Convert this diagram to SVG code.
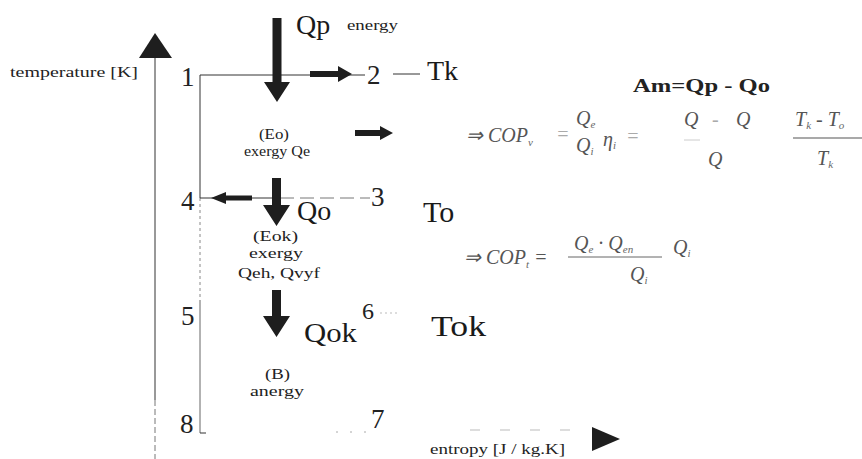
<svg xmlns="http://www.w3.org/2000/svg" width="862" height="459" viewBox="0 0 862 459">
<style>
.big{font-family:"Liberation Serif","Times New Roman",serif;font-size:28px;fill:#1a1a1a}
.num{font-family:"Liberation Serif","Times New Roman",serif;font-size:27px;fill:#222}
.sm{font-family:"Liberation Serif","Times New Roman",serif;font-size:15px;fill:#222}
.mid{font-family:"Liberation Serif","Times New Roman",serif;font-size:14px;fill:#222}
.f{font-family:"Liberation Serif","Times New Roman",serif;font-style:italic;font-size:20px;fill:#555}
.fs{font-size:11px;fill:#666}
.fa{fill:#aaa}
.ln{stroke:#333;stroke-width:1;fill:none}
.blk{fill:#1e1e1e}
</style>
<rect width="862" height="459" fill="#ffffff"/>

<g id="axes">
  <polygon class="blk" points="155,33 139,58 172,58"/>
  <line class="ln" x1="155" y1="58" x2="155" y2="400"/>
  <line x1="155" y1="400" x2="155" y2="459" stroke="#777" stroke-width="1" stroke-dasharray="6,3"/>
  <text class="mid" x="10" y="77" textLength="128" lengthAdjust="spacingAndGlyphs">temperature [K]</text>
  <polygon class="blk" points="592,427 592,451 620,439"/>
  <text class="mid" x="430" y="454" textLength="135" lengthAdjust="spacingAndGlyphs">entropy [J / kg.K]</text>
</g>

<g id="connectors">
  <line class="ln" x1="200" y1="75" x2="365" y2="75"/>
  <line class="ln" x1="200" y1="75" x2="200" y2="198"/>
  <line x1="200" y1="198" x2="200" y2="300" stroke="#888" stroke-width="1" stroke-dasharray="3,3"/>
  <line x1="200" y1="300" x2="200" y2="433" stroke="#666" stroke-width="1"/>
  <line class="ln" x1="200" y1="433" x2="206" y2="433"/>
  <line class="ln" x1="200" y1="198" x2="280" y2="198"/>
  <line x1="280" y1="198" x2="370" y2="198" stroke="#777" stroke-width="1" stroke-dasharray="14,6"/>
  <line class="ln" x1="393" y1="74" x2="420" y2="74"/>
  <line x1="336" y1="432" x2="372" y2="432" stroke="#aaa" stroke-width="1" stroke-dasharray="2,12"/>
  <line x1="470" y1="430" x2="590" y2="430" stroke="#bbb" stroke-width="1" stroke-dasharray="10,20"/>
  <line x1="380" y1="313" x2="398" y2="313" stroke="#bbb" stroke-width="1" stroke-dasharray="2,3"/>
  <polygon class="blk" points="272.5,18 281.5,18 281.5,82 290,82 277,102 264,82 272.5,82"/>
  <polygon class="blk" points="310,71 338,71 338,66 352,74 338,82 338,77 310,77"/>
  <polygon class="blk" points="355,130 380,130 380,126 393,133 380,140 380,136 355,136"/>
  <polygon class="blk" points="252,195.5 226,195.5 226,192 211,198 226,204 226,200.5 252,200.5"/>
  <polygon class="blk" points="272,178 281,178 281,205 290,205 276.5,226 263,205 272,205"/>
  <polygon class="blk" points="272,290 281,290 281,316 290,316 276.5,337 263,316 272,316"/>
</g>

<g id="point-1"><text class="num" x="181" y="86">1</text></g>
<g id="point-2"><text class="num" x="367" y="84">2</text></g>
<g id="point-3"><text class="num" x="371" y="206" fill="#444">3</text></g>
<g id="point-4"><text class="num" x="181" y="210">4</text></g>
<g id="point-5"><text class="num" x="181" y="325">5</text></g>
<g id="point-6"><text class="num" x="362" y="319" style="font-size:24px">6</text></g>
<g id="point-7"><text class="num" x="371" y="428">7</text></g>
<g id="point-8"><text class="num" x="180" y="433">8</text></g>

<g id="label-Tk"><text class="big" x="427" y="80">Tk</text></g>
<g id="label-To"><text class="big" x="423" y="222" style="font-size:30px">To</text></g>
<g id="label-Tok"><text class="big" x="431" y="336" style="font-size:30px" textLength="55" lengthAdjust="spacingAndGlyphs">Tok</text></g>

<g id="label-Qp">
  <text class="big" x="296" y="34">Qp</text>
  <text class="sm" x="347" y="30" textLength="51" lengthAdjust="spacingAndGlyphs">energy</text>
</g>
<g id="label-Qo"><text class="big" x="297" y="220">Qo</text></g>
<g id="label-Qok"><text class="big" x="304" y="342" textLength="53" lengthAdjust="spacingAndGlyphs">Qok</text></g>

<g id="label-Eo">
  <text class="sm" x="259" y="139" textLength="30" lengthAdjust="spacingAndGlyphs">(Eo)</text>
  <text class="sm" x="244" y="156" textLength="66" lengthAdjust="spacingAndGlyphs">exergy Qe</text>
</g>
<g id="label-Eok">
  <text class="sm" x="253" y="241" textLength="45" lengthAdjust="spacingAndGlyphs">(Eok)</text>
  <text class="sm" x="249" y="258" textLength="54" lengthAdjust="spacingAndGlyphs">exergy</text>
  <text class="sm" x="238" y="278" textLength="82" lengthAdjust="spacingAndGlyphs">Qeh, Qvyf</text>
</g>
<g id="label-B">
  <text class="sm" x="265" y="379" textLength="25" lengthAdjust="spacingAndGlyphs">(B)</text>
  <text class="sm" x="250" y="396" textLength="54" lengthAdjust="spacingAndGlyphs">anergy</text>
</g>

<g id="formula-Am">
  <text x="633" y="92" textLength="137" lengthAdjust="spacingAndGlyphs" style="font-family:'Liberation Serif','Times New Roman',serif;font-size:19px;font-weight:bold;fill:#222">Am=Qp - Qo</text>
</g>

<g id="formula-COPv">
  <text class="f" x="466" y="142">⇒ COP<tspan class="fs" dy="4">v</tspan></text>
  <text class="f fa" x="556" y="141">=</text>
  <text class="f" x="576" y="125">Q<tspan class="fs" dy="3">e</tspan></text>
  <text class="f" x="576" y="152">Q<tspan class="fs" dy="3">i</tspan></text>
  <text class="f" x="603" y="146">η<tspan class="fs" dy="3">i</tspan></text>
  <text class="f fa" x="626" y="143">=</text>
  <text class="f" x="684" y="126">Q</text>
  <line x1="684" y1="140" x2="700" y2="140" stroke="#ccc" stroke-width="1"/>
  <text class="f fa" x="712" y="126">-</text>
  <text class="f" x="736" y="126">Q</text>
  <text class="f" x="708" y="166">Q</text>
  <text class="f" x="795" y="126">T<tspan class="fs" dy="3">k</tspan><tspan dy="-3"> - T</tspan><tspan class="fs" dy="3">o</tspan></text>
  <line x1="793" y1="138" x2="862" y2="138" stroke="#555" stroke-width="1.2"/>
  <text class="f" x="817" y="165">T<tspan class="fs" dy="3">k</tspan></text>
</g>

<g id="formula-COPt">
  <text class="f" x="464" y="264">⇒ COP<tspan class="fs" dy="4">t</tspan><tspan dy="-4"> =</tspan></text>
  <text class="f" x="574" y="250">Q<tspan class="fs" dy="3">e</tspan><tspan dy="-3"> · Q</tspan><tspan class="fs" dy="3">en</tspan></text>
  <line x1="568" y1="257" x2="662" y2="257" stroke="#666" stroke-width="1"/>
  <text class="f" x="630" y="281">Q<tspan class="fs" dy="3">i</tspan></text>
  <text class="f" x="673" y="254">Q<tspan class="fs" dy="3">i</tspan></text>
</g>
</svg>
